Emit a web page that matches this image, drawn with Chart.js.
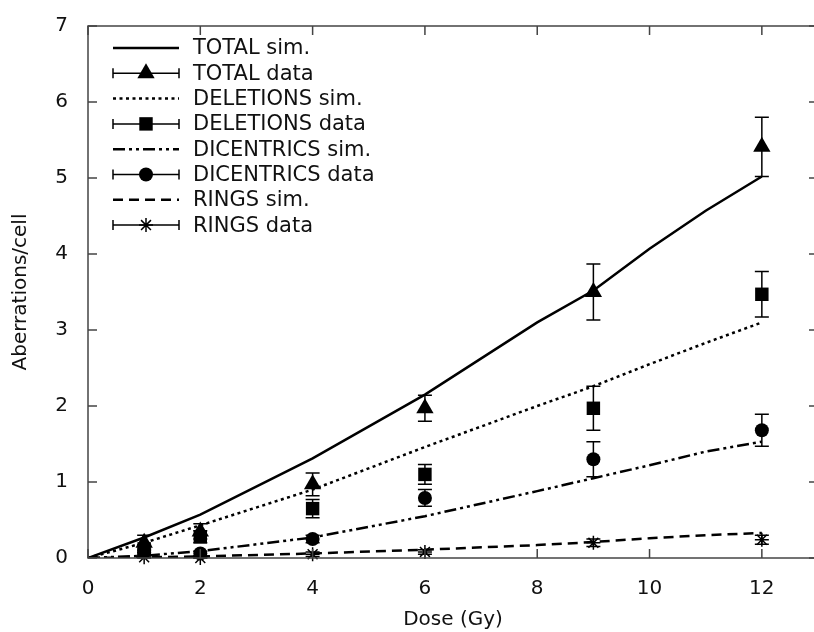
<!DOCTYPE html>
<html>
<head>
<meta charset="utf-8">
<script src="https://cdn.jsdelivr.net/npm/chart.js@4/dist/chart.umd.min.js"></script>
<style>
  html, body { margin: 0; padding: 0; background: #fff; overflow: hidden; }
  #wrap { width: 832px; height: 632px; }
</style>
</head>
<body>
<div id="wrap"><canvas id="chart"></canvas></div>
<script>
// Simulated curves (dose points of the simulation)
const simDose = [0, 1, 2, 4, 6, 8, 9, 10, 11, 12];
const totalSim = [0, 0.27, 0.57, 1.31, 2.15, 3.10, 3.52, 4.07, 4.57, 5.02];
const deletionsSim = [0, 0.20, 0.43, 0.90, 1.46, 2.00, 2.26, 2.55, 2.83, 3.10];
const dicentricsSim = [0, 0.03, 0.09, 0.27, 0.55, 0.88, 1.05, 1.22, 1.40, 1.53];
const ringsSim = [0, 0.01, 0.02, 0.06, 0.11, 0.17, 0.21, 0.26, 0.30, 0.33];

// Experimental data with errors
const dataDose = [1, 2, 4, 6, 9, 12];
const totalData = [0.20, 0.35, 0.97, 1.97, 3.50, 5.41];
const totalErr = [0.10, 0.10, 0.15, 0.17, 0.37, 0.39];
const deletionsData = [0.12, 0.28, 0.65, 1.10, 1.97, 3.47];
const deletionsErr = [0.05, 0.08, 0.12, 0.13, 0.29, 0.30];
const dicentricsData = [0.08, 0.06, 0.25, 0.79, 1.30, 1.68];
const dicentricsErr = [0.04, 0.03, 0.05, 0.11, 0.23, 0.21];
const ringsData = [0.01, 0.00, 0.05, 0.08, 0.20, 0.24];
const ringsErr = [0.02, 0.02, 0.03, 0.03, 0.05, 0.06];

const xTicks = [0, 2, 4, 6, 8, 10, 12];
const yTicks = [0, 1, 2, 3, 4, 5, 6, 7];

const FONT = 'DejaVu Sans';

function pts(xs, ys) {
    return xs.map((x, i) => ({ x: x, y: ys[i] }));
}

function simSet(label, ys, dash) {
    return {
        label: label,
        data: pts(simDose, ys),
        showLine: true,
        borderColor: '#000',
        borderWidth: 2.5,
        borderDash: dash,
        pointRadius: 0,
        fill: false
    };
}

function dataSet(label, ys, errs, style, radius) {
    return {
        label: label,
        data: pts(dataDose, ys),
        errors: errs,
        showLine: false,
        pointStyle: style,
        pointRadius: radius,
        pointBackgroundColor: '#000',
        pointBorderColor: '#000',
        pointBorderWidth: style === 'star' ? 1.5 : 0,
        clip: false
    };
}

const datasets = [
    simSet('TOTAL sim.', totalSim, []),
    dataSet('TOTAL data', totalData, totalErr, 'triangle', 10),
    simSet('DELETIONS sim.', deletionsSim, [3, 3.5]),
    dataSet('DELETIONS data', deletionsData, deletionsErr, 'rect', 9.5),
    simSet('DICENTRICS sim.', dicentricsSim, [12, 4, 3, 4, 3, 4]),
    dataSet('DICENTRICS data', dicentricsData, dicentricsErr, 'circle', 7),
    simSet('RINGS sim.', ringsSim, [10, 6]),
    dataSet('RINGS data', ringsData, ringsErr, 'star', 7)
];

// error bars with caps, drawn through the scales
const errorBars = {
    id: 'errorBars',
    afterDatasetsDraw(chart) {
        const ctx = chart.ctx;
        const xs = chart.scales.x, ys = chart.scales.y;
        ctx.save();
        ctx.strokeStyle = '#000';
        ctx.lineWidth = 1.5;
        chart.data.datasets.forEach(ds => {
            if (!ds.errors) return;
            ds.data.forEach((p, i) => {
                const e = ds.errors[i];
                const px = xs.getPixelForValue(p.x);
                const top = ys.getPixelForValue(p.y + e);
                const bot = ys.getPixelForValue(Math.max(0, p.y - e));
                ctx.beginPath();
                ctx.moveTo(px, top); ctx.lineTo(px, bot);
                ctx.moveTo(px - 7, top); ctx.lineTo(px + 7, top);
                ctx.moveTo(px - 7, bot); ctx.lineTo(px + 7, bot);
                ctx.stroke();
            });
        });
        ctx.restore();
    }
};

// gnuplot style box with inward ticks on all four sides
const frame = {
    id: 'frame',
    afterDraw(chart) {
        const ctx = chart.ctx;
        const a = chart.chartArea;
        const xs = chart.scales.x, ys = chart.scales.y;
        const len = 9;
        ctx.save();
        ctx.strokeStyle = '#444';
        ctx.lineWidth = 1.5;
        ctx.strokeRect(a.left, a.top, a.right - a.left, a.bottom - a.top);
        ctx.beginPath();
        xTicks.forEach(v => {
            const px = xs.getPixelForValue(v);
            ctx.moveTo(px, a.bottom); ctx.lineTo(px, a.bottom - len);
            ctx.moveTo(px, a.top); ctx.lineTo(px, a.top + len);
        });
        yTicks.forEach(v => {
            const py = ys.getPixelForValue(v);
            ctx.moveTo(a.left, py); ctx.lineTo(a.left + len, py);
            ctx.moveTo(a.right, py); ctx.lineTo(a.right - len, py);
        });
        ctx.stroke();
        ctx.restore();
    }
};

// legend inside the plot, top left
const keyBox = {
    id: 'keyBox',
    afterDraw(chart) {
        const ctx = chart.ctx;
        const x0 = 113, x1 = 179, tx = 193;
        ctx.save();
        ctx.font = '21px "' + FONT + '"';
        ctx.textBaseline = 'middle';
        ctx.textAlign = 'left';
        chart.data.datasets.forEach((ds, i) => {
            const y = 48 + i * 25.3;
            ctx.strokeStyle = '#000';
            ctx.fillStyle = '#000';
            if (ds.errors) {
                ctx.lineWidth = 1.5;
                ctx.setLineDash([]);
                ctx.beginPath();
                ctx.moveTo(x0, y); ctx.lineTo(x1, y);
                ctx.moveTo(x0, y - 5); ctx.lineTo(x0, y + 5);
                ctx.moveTo(x1, y - 5); ctx.lineTo(x1, y + 5);
                ctx.stroke();
                ctx.lineWidth = ds.pointBorderWidth || 0;
                Chart.helpers.drawPoint(ctx, {
                    pointStyle: ds.pointStyle,
                    radius: ds.pointRadius,
                    rotation: 0,
                    borderWidth: ds.pointBorderWidth
                }, (x0 + x1) / 2, y);
            } else {
                ctx.lineWidth = 2.5;
                ctx.setLineDash(ds.borderDash);
                ctx.beginPath();
                ctx.moveTo(x0, y); ctx.lineTo(x1, y);
                ctx.stroke();
                ctx.setLineDash([]);
            }
            ctx.fillStyle = '#111';
            ctx.fillText(ds.label, tx, y + 1);
        });
        ctx.restore();
    }
};

new Chart(document.getElementById('chart'), {
    type: 'scatter',
    data: { datasets: datasets },
    options: {
        responsive: true,
        maintainAspectRatio: false,
        animation: false,
        layout: { padding: { top: 26, right: 14, left: 0, bottom: 0 } },
        plugins: { legend: { display: false }, tooltip: { enabled: false } },
        scales: {
            x: {
                type: 'linear',
                min: 0,
                max: 13,
                afterBuildTicks: s => { s.ticks = xTicks.map(v => ({ value: v })); },
                afterFit: s => { s.height = 74; },
                grid: { display: false },
                border: { display: false },
                ticks: { color: '#111', padding: 11, font: { family: FONT, size: 20 } },
                title: {
                    display: true,
                    text: 'Dose (Gy)',
                    color: '#111',
                    padding: { top: 0, bottom: 0 },
                    font: { family: FONT, size: 20 }
                }
            },
            y: {
                type: 'linear',
                min: 0,
                max: 7,
                afterBuildTicks: s => { s.ticks = yTicks.map(v => ({ value: v })); },
                afterFit: s => { s.width = 88; },
                grid: { display: false },
                border: { display: false },
                ticks: { color: '#111', padding: 12, font: { family: FONT, size: 20 } },
                title: {
                    display: true,
                    text: 'Aberrations/cell',
                    color: '#111',
                    padding: { top: 9, bottom: 0 },
                    font: { family: FONT, size: 20 }
                }
            }
        }
    },
    plugins: [errorBars, frame, keyBox]
});
</script>
</body>
</html>
